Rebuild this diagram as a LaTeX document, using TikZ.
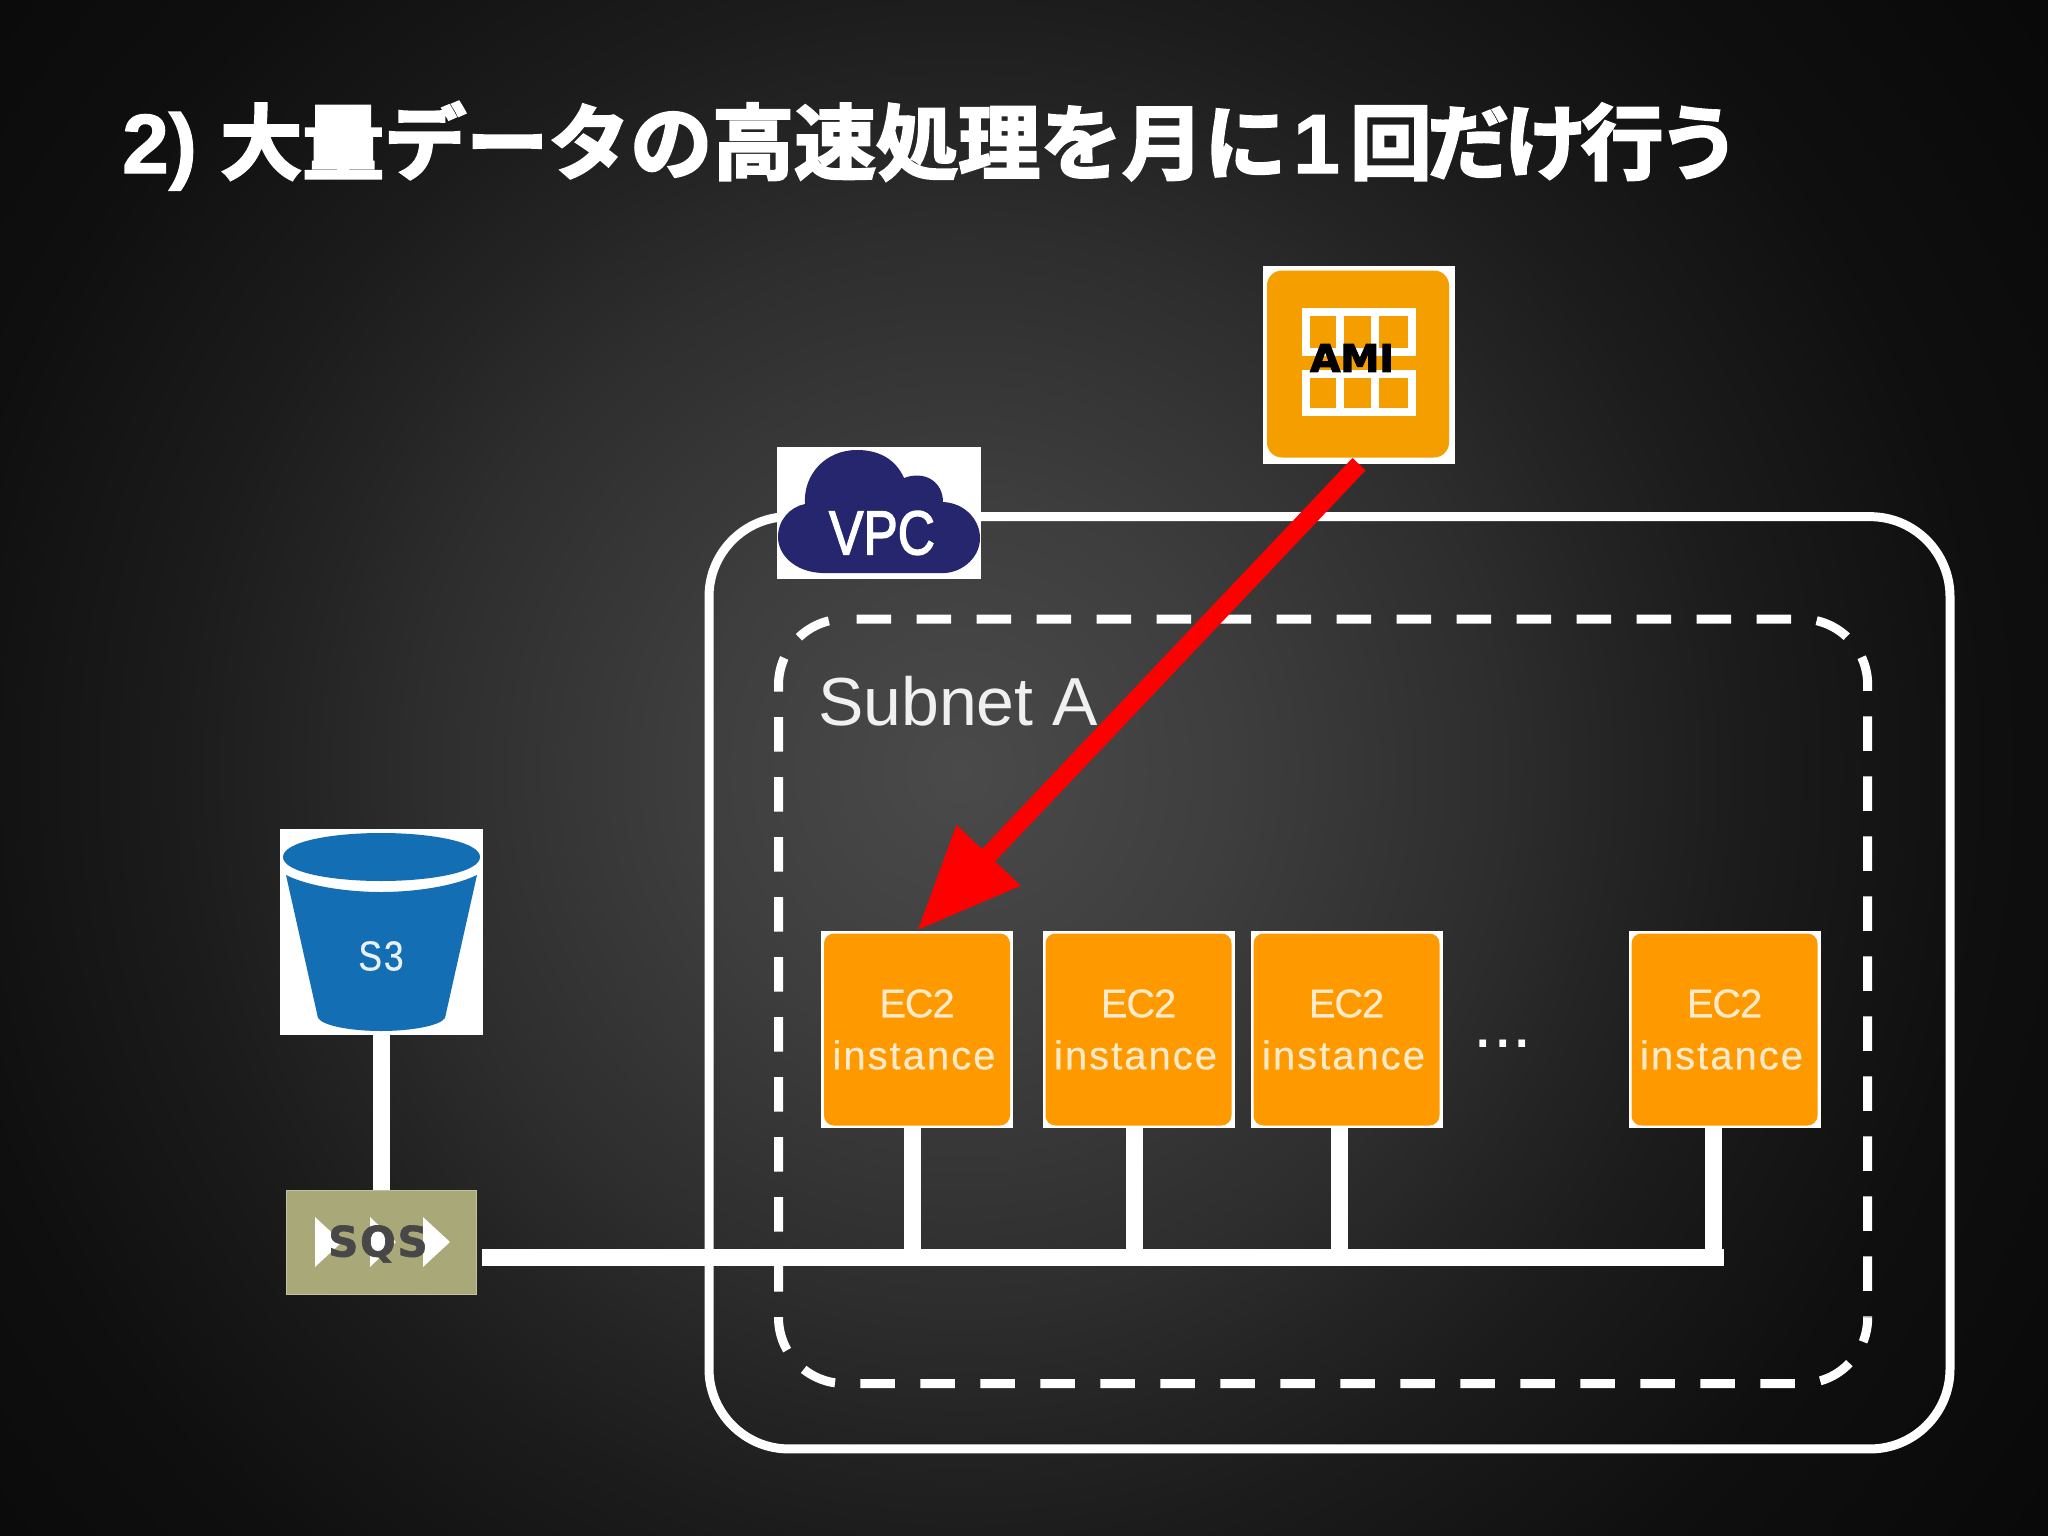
\documentclass[tikz,border=0pt]{standalone}
\usepackage{fontspec}
\usetikzlibrary{arrows.meta,shadings}
\setmainfont{Liberation Sans}
\newfontfamily\titlelat{Liberation Sans Bold}[FakeBold=1.5]
\newfontfamily\cjkbold{Noto Sans CJK JP Bold}[FakeBold=3]
\newfontfamily\cjktail{Noto Sans CJK JP Bold}[FakeBold=3,LetterSpace=-6]
\newfontfamily\iconfont{Liberation Sans}[LetterSpace=5,FakeBold=.3]
\newfontfamily\ectop{Liberation Sans}[LetterSpace=-3,FakeBold=.3]
\newfontfamily\sqsfont{DejaVu Sans Bold}[LetterSpace=4,FakeBold=1.5]
\newfontfamily\amifont{DejaVu Sans Bold}[FakeBold=3]
\newfontfamily\vpcfont{Liberation Sans}[FakeBold=2.5]
\definecolor{ecorange}{HTML}{FF9900}
\definecolor{amiorange}{HTML}{F59E00}
\definecolor{vpcblue}{HTML}{26266E}
\definecolor{sthree}{HTML}{146EB4}
\definecolor{sqsgreen}{HTML}{A8A878}
\definecolor{icontext}{HTML}{FFEBCB}
\definecolor{bgA}{HTML}{4A4A4A}\definecolor{bgB}{HTML}{3E3E3E}\definecolor{bgC}{HTML}{2D2D2D}
\definecolor{bgD}{HTML}{242424}\definecolor{bgE}{HTML}{1B1B1B}\definecolor{bgF}{HTML}{0F0F0F}\definecolor{bgG}{HTML}{090909}
\pgfdeclareradialshading{slidebg}{\pgfpoint{0bp}{0bp}}{%
 color(0bp)=(bgA); color(6bp)=(bgB); color(12.3bp)=(bgC); color(15bp)=(bgD); color(18bp)=(bgE); color(23.4bp)=(bgF); color(30bp)=(bgG); color(50bp)=(bgG)}
\tikzset{
 wire/.style={draw=white,line width=17pt},
 whitebox/.style={fill=white,draw=none,inner sep=0pt,minimum width=#1},
 ecbody/.style={fill=ecorange,draw=none,rounded corners=10pt,inner sep=0pt,minimum width=186pt,minimum height=192pt,
   text=icontext,align=center,font=\iconfont\fontsize{40}{52}\selectfont},
 grid/.style={draw=white,line width=8pt},
 subnetline/.style={draw=white,line width=9pt,rounded corners=66pt},
}
\newcommand{\ectwo}[2]{%
 \node[whitebox=192pt,minimum height=197pt] (#1) at (#2) {};
 \node[ecbody] (#1t) at (#1) {{\ectop EC2}\\instance\hspace*{6pt}};
}
\begin{document}
\begin{tikzpicture}[x=1pt,y=-1pt]
\useasboundingbox (0,0) rectangle (2048,1536);
\begin{scope}
\clip (0,0) rectangle (2048,1536);
\path[shading=slidebg] (-140,-330) rectangle (2060,1870);
\end{scope}
% title
\node[anchor=base west,inner sep=0pt,text=white,font=\fontsize{84}{84}\selectfont] (title) at (122,173)
 {{\titlelat 2) }{\cjkbold\fontsize{82}{84}\selectfont 大量データの高速処理を月に}\hspace{7pt}{\titlelat 1}\hspace{10pt}{\cjktail\fontsize{82}{84}\selectfont 回だけ行う}};
% containers
\node[draw=white,line width=9pt,rounded corners=80pt,minimum width=1241pt,minimum height=932.3pt,inner sep=0pt,outer sep=0pt] (vpc) at (1329.5,982.8) {};
\draw[subnetline,dash pattern=on 34.5pt off 25.5pt,dash phase=47.8pt] (844.5,619) -- (1867.7,619) -- (1867.7,1317.5);
\draw[subnetline,dash pattern=on 34.5pt off 25.5pt,dash phase=9.6pt] (1867.7,1317.5) -- (1867.7,1383.5) -- (778.5,1383.5) -- (778.5,619) -- (844.5,619);
\node[anchor=base west,inner sep=0pt,text=white!94!black,font=\fontsize{68}{68}\selectfont] (subnetlabel) at (818,725) {Subnet A};
% VPC icon
\node[whitebox=204pt,minimum height=132pt] (vpcicon) at (879,513) {};
\fill[vpcblue] (822,573) .. controls (795,572) and (778,555) .. (778,537)
 .. controls (778,520) and (790,507) .. (805,504)
 .. controls (803,475) and (825,450) .. (857,450)
 .. controls (880,450) and (896,460) .. (904,478)
 .. controls (925,470) and (943,482) .. (943,502)
 .. controls (965,503) and (980,520) .. (980,538)
 .. controls (980,558) and (962,572) .. (945,573) -- cycle;
\node[inner sep=0pt,text=white,font=\vpcfont\fontsize{62}{62}\selectfont,xscale=.83] (vpctext) at (882,533) {VPC};
% AMI icon
\node[whitebox=192pt,minimum height=198pt] (ami) at (1359,365) {};
\node[fill=amiorange,draw=none,rounded corners=15pt,minimum width=182pt,minimum height=187pt,inner sep=0pt] (amibody) at (1358,364) {};
\draw[grid] (1305.5,311.5) rectangle (1412,352);
\draw[grid] (1305.5,374) rectangle (1412,411.5);
\draw[grid] (1340,311.5) -- (1340,352) (1375,311.5) -- (1375,352) (1340,374) -- (1340,411.5) (1375,374) -- (1375,411.5);
\node[inner sep=0pt,text=black,font=\amifont\fontsize{38}{38}\selectfont,xscale=1.03] (amitext) at (1352,358) {AMI};
% EC2 instances
\ectwo{ec1}{917,1029.5}
\ectwo{ec2}{1138.5,1029.5}
\ectwo{ec3}{1346.5,1029.5}
\ectwo{ec4}{1724.5,1029.5}
\node[anchor=base,inner sep=0pt,text=white,font=\fontsize{70}{70}\selectfont] (dots) at (1503,1047) {...};
% S3
\node[whitebox=203pt,minimum height=206pt] (s3) at (381.5,932) {};
\fill[sthree] (283,857) .. controls (283,842) and (330,833) .. (381,833)
 .. controls (432,833) and (480,842) .. (480,857)
 .. controls (480,872) and (432,881) .. (381,881)
 .. controls (330,881) and (283,872) .. (283,857) -- cycle;
\fill[sthree] (286,875) .. controls (310,887) and (350,892) .. (381,892)
 .. controls (412,892) and (452,887) .. (477,875)
 -- (445,1018) .. controls (440,1026) and (410,1031) .. (381,1031)
 .. controls (352,1031) and (323,1026) .. (318,1018) -- cycle;
\node[inner sep=0pt,text=white!90!sthree,font=\iconfont\fontsize{42}{42}\selectfont,xscale=.85] (s3text) at (381,956) {S3};
% SQS
\node[fill=sqsgreen,draw=sqsgreen!70!white,line width=1.5pt,inner sep=0pt,minimum width=190pt,minimum height=104pt] (sqs) at (381.5,1242.5) {};
\fill[white] (315,1217) -- (342,1242) -- (315,1267) -- cycle;
\fill[white] (370,1217) -- (396,1242) -- (370,1267) -- cycle;
\fill[white] (423,1217) -- (450,1242) -- (423,1267) -- cycle;
\node[inner sep=0pt,text=black!72,font=\sqsfont\fontsize{42}{42}\selectfont] (sqstext) at (378,1244) {SQS};
% connectors
\coordinate (j1) at (912,1257);
\coordinate (j2) at (1134,1257);
\coordinate (j3) at (1339,1257);
\coordinate (j4) at (1713,1257);
\coordinate (busend) at (1724,1257);
\draw[wire] (s3.south) -- (sqs.north);
\draw[wire] ([xshift=5pt]sqs.east |- busend) -- (busend);
\draw[wire] (ec1.south -| j1) -- (j1);
\draw[wire] (ec2.south -| j2) -- (j2);
\draw[wire] (ec3.south -| j3) -- (j3);
\draw[wire] (ec4.south -| j4) -- (j4);
\draw[draw=red,line width=18pt,-{Triangle[length=104pt,width=83pt,fill=red]}] (ami.south) -- (ec1.north);
\end{tikzpicture}
\end{document}
